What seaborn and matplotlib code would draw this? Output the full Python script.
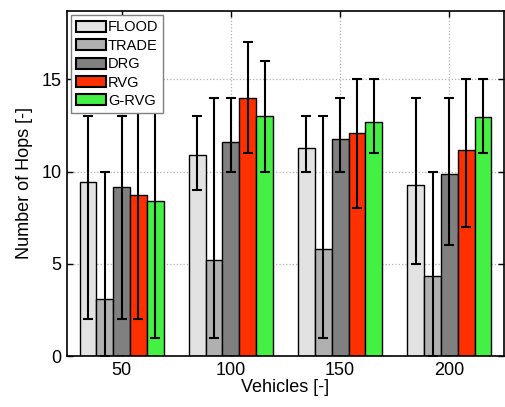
import numpy as np
import pandas as pd
import seaborn as sns
import matplotlib
matplotlib.use("Agg")
import matplotlib.pyplot as plt

vehicles = ["50", "100", "150", "200"]
methods = ["FLOOD", "TRADE", "DRG", "RVG", "G-RVG"]
flood = [9.45, 10.9, 11.27, 9.27]
trade = [3.08, 5.22, 5.78, 4.34]
drg = [9.18, 11.6, 11.74, 9.88]
rvg = [8.74, 14.0, 12.1, 11.17]
grvg = [8.4, 13.0, 12.7, 12.94]
# error bar extents (min / max)
flood_lo = [2, 9, 10, 5]
flood_hi = [13, 13, 13, 14]
trade_lo = [0, 1, 1, 0]
trade_hi = [10, 14, 13, 10]
drg_lo = [2, 10, 10, 6]
drg_hi = [13, 14, 14, 14]
rvg_lo = [2, 11, 8, 7]
rvg_hi = [15, 17, 15, 15]
grvg_lo = [1, 10, 11, 11]
grvg_hi = [15, 16, 15, 15]

colors = ["#e2e2e2", "#b0b0b0", "#808080", "#ff3000", "#44f044"]

means = [flood, trade, drg, rvg, grvg]
los = [flood_lo, trade_lo, drg_lo, rvg_lo, grvg_lo]
his = [flood_hi, trade_hi, drg_hi, rvg_hi, grvg_hi]

rows = []
for m, vals in zip(methods, means):
    for v, val in zip(vehicles, vals):
        rows.append({"Vehicles": v, "Method": m, "Hops": val})
df = pd.DataFrame(rows)

sns.set_style("white")
plt.rcParams["font.family"] = ["Liberation Sans", "DejaVu Sans"]
plt.rcParams["text.color"] = "black"
plt.rcParams["axes.labelcolor"] = "black"
plt.rcParams["xtick.color"] = "black"
plt.rcParams["ytick.color"] = "black"

fig = plt.figure(figsize=(5.05, 4.07), dpi=100)
ax = fig.add_axes([0.1327, 0.1253, 0.8653, 0.8477])

sns.barplot(data=df, x="Vehicles", y="Hops", hue="Method", order=vehicles,
            hue_order=methods, palette=colors, saturation=1, width=0.77, gap=0,
            edgecolor="black", linewidth=1.0, errorbar=None, ax=ax, zorder=2)

patches = [p for p in ax.patches if p.get_height() > 0]
patches = sorted(patches, key=lambda p: p.get_x())
k = 0
for i in range(len(vehicles)):
    for j in range(len(methods)):
        p = patches[k]
        k += 1
        xc = p.get_x() + p.get_width() / 2
        y = means[j][i]
        ax.errorbar(xc, y, yerr=[[y - los[j][i]], [his[j][i] - y]],
                    color="black", lw=1.5, capsize=3.5, capthick=1.5,
                    zorder=3)

ax.set_xlim(-0.5, 3.5)
ax.set_ylim(0, 18.7)
ax.set_yticks([0, 5, 10, 15])
ax.grid(True, linestyle=":", color="#b0b0b0", linewidth=0.9)
ax.set_axisbelow(True)
for s in ax.spines.values():
    s.set_visible(True)
    s.set_color("black")
    s.set_linewidth(1.2)
ax.tick_params(axis="both", which="both", direction="in", length=4,
               width=1.0, labelsize=13, top=True, right=True,
               bottom=True, left=True, color="black", labelcolor="black", pad=4)
ax.set_xlabel("Vehicles [-]", fontsize=13, labelpad=0, color="black")
ax.set_ylabel("Number of Hops [-]", fontsize=13, labelpad=6, color="black")

leg = ax.legend(loc="upper left", fontsize=10.5, frameon=True, fancybox=False,
                edgecolor="#808080", framealpha=1, borderpad=0.35,
                handlelength=2.0, handleheight=0.8, handletextpad=0.15,
                labelspacing=0.3, borderaxespad=0.3)
leg.get_frame().set_linewidth(1.0)
for h in leg.legend_handles:
    h.set_edgecolor("black")
    h.set_linewidth(1.5)

fig.savefig("out.png", dpi=100)
